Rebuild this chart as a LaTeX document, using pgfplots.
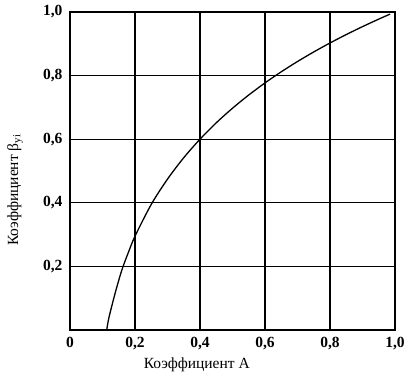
\documentclass[border=0pt]{standalone}
\usepackage{fontspec}
\setmainfont{Liberation Serif}
\usepackage{pgfplots}
\pgfplotsset{compat=1.18}
\begin{document}
\begin{tikzpicture}
\begin{axis}[
  at={(0,0)}, anchor=south west,
  scale only axis,
  width=325pt, height=318pt,
  xmin=0, xmax=1, ymin=0, ymax=1,
  xtick={0,0.2,0.4,0.6,0.8,1.0},
  ytick={0.2,0.4,0.6,0.8,1.0},
  xticklabels={0,{0,2},{0,4},{0,6},{0,8},{1,0}},
  yticklabels={{0,2},{0,4},{0,6},{0,8},{1,0}},
  /pgf/number format/assume math mode=true,
  tick label style={font=\fontsize{15.5}{15.5}\selectfont\bfseries},
  major tick length=0pt,
  grid=major,
  grid style={black, line width=1.3pt},
  axis line style={black, line width=1.6pt},
  xlabel={Коэффициент А},
  ylabel={Коэффициент β\textsubscript{yi}},
  label style={font=\fontsize{15.5}{15.5}\selectfont},
  xticklabel style={yshift=-4pt},
  yticklabel style={xshift=-4pt},
  xlabel style={at={(rel axis cs:0.39,0)}, anchor=center, yshift=-35pt},
  ylabel style={at={([xshift=-55pt]rel axis cs:0,0.44)}, anchor=center},
  clip=false,
]
\addplot[black, line width=1.3pt, smooth] coordinates {
(0.113,0.0) (0.12,0.04) (0.14,0.12) (0.16,0.19) (0.18,0.245) (0.20,0.295)
(0.25,0.395) (0.30,0.4745) (0.35,0.5418) (0.40,0.600) (0.45,0.6515)
(0.50,0.6974) (0.55,0.739) (0.60,0.777) (0.65,0.812) (0.70,0.8443)
(0.75,0.8744) (0.80,0.9026) (0.85,0.929) (0.90,0.954) (0.95,0.9776)
(0.985,0.9934)
};
\end{axis}
\pgfresetboundingbox
\useasboundingbox (-70pt,-50pt) rectangle (339pt,330pt);
\end{tikzpicture}
\end{document}
